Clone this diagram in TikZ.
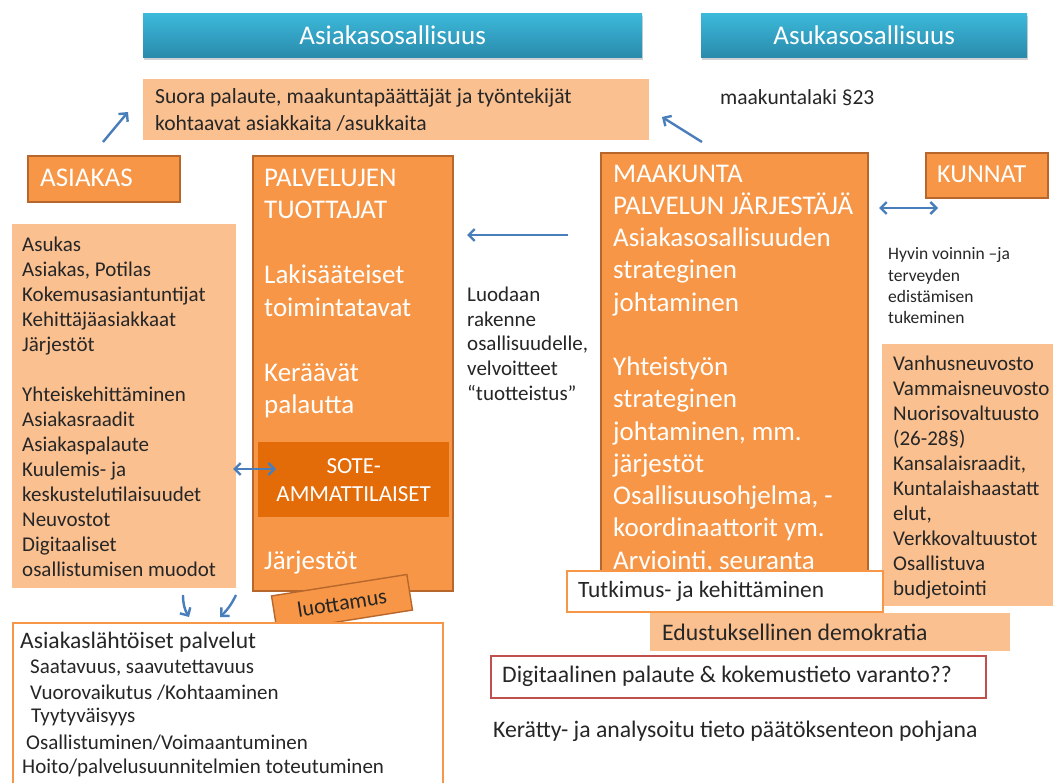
\documentclass[tikz,border=0pt]{standalone}
\usepackage{fontspec}
\setmainfont{Carlito}
\usetikzlibrary{shadows,arrows.meta}
\definecolor{bannertop}{HTML}{3CB9DB}
\definecolor{bannerbot}{HTML}{2A8BAC}
\definecolor{orng}{HTML}{F79646}
\definecolor{orngdark}{HTML}{B8672C}
\definecolor{peach}{HTML}{FAC090}
\definecolor{sotec}{HTML}{E36C09}
\definecolor{arrowblue}{HTML}{4A7EBB}
\definecolor{redb}{HTML}{C0504D}
\definecolor{txt}{HTML}{262626}
\newcommand{\myfs}[2]{\fontsize{#1}{#2}\selectfont}
\begin{document}
\begin{tikzpicture}[x=1pt,y=-1pt,
  boxbase/.style={rectangle, inner sep=0pt, anchor=north west},
  banner/.style={boxbase, top color=bannertop, bottom color=bannerbot, text=white, font=\myfs{27}{32},
     drop shadow={opacity=0.35, shadow xshift=1pt, shadow yshift=-3pt}},
  orangebox/.style={boxbase, fill=orng, draw=orngdark, line width=1.6pt},
  peachbox/.style={boxbase, fill=peach},
  whitebox/.style={boxbase, fill=white, draw=orng, line width=2pt},
  redbox/.style={boxbase, fill=white, draw=redb, line width=2.2pt},
  sotebox/.style={boxbase, fill=sotec, text=white, align=center, font=\myfs{23}{28}},
  wtxt/.style={inner sep=0pt, text=white, align=left},
  dtxt/.style={inner sep=0pt, text=txt, align=left},
  barrow/.style={draw=arrowblue, line width=2.4pt, -{Straight Barb[length=6pt,width=12pt]}},
  dbarrow/.style={draw=arrowblue, line width=2.4pt, {Straight Barb[length=6pt,width=12pt]}-{Straight Barb[length=6pt,width=12pt]}}
]
\useasboundingbox (0,0) rectangle (1053,783);
\fill[white] (0,0) rectangle (1053,783);

% banners
\node[banner, minimum width=499pt, minimum height=44pt] (ban1) at (143,13) {Asiakasosallisuus};
\node[banner, minimum width=326pt, minimum height=44pt] (ban2) at (701,13) {Asukasosallisuus};

% top peach box
\node[peachbox, minimum width=506pt, minimum height=61pt] (suora) at (143,79) {};
\node[dtxt, anchor=north west, font=\myfs{21.6}{27}] (suoratxt) at (155,88.5)
  {Suora palaute, maakuntapäättäjät ja työntekijät\\kohtaavat asiakkaita /asukkaita};
\node[dtxt, anchor=west, font=\myfs{21.5}{26}] (laki) at (720,98) {maakuntalaki §23};

% ASIAKAS
\node[orangebox, minimum width=152pt, minimum height=46pt] (asiakas) at (27,155) {};
\node[wtxt, anchor=west, font=\myfs{27}{32}] (asiakastxt) at (40,178) {ASIAKAS};

% left list
\node[peachbox, minimum width=224pt, minimum height=364pt] (leftlist) at (12,224) {};
\node[dtxt, anchor=north west, font=\myfs{21}{25}] (lefttxt) at (22,236.5)
  {Asukas\\Asiakas, Potilas\\Kokemusasiantuntijat\\Kehittäjäasiakkaat\\Järjestöt\\[25pt]Yhteiskehittäminen\\Asiakasraadit\\Asiakaspalaute\\Kuulemis- ja\\keskustelutilaisuudet\\Neuvostot\\Digitaaliset\\osallistumisen muodot};

% palvelujen tuottajat
\node[orangebox, minimum width=200pt, minimum height=435pt] (palv) at (252,155) {};
\node[wtxt, anchor=north west, font=\myfs{27}{32.5}] (palvtxt) at (264,168.6)
  {PALVELUJEN\\TUOTTAJAT\\[32.5pt]Lakisääteiset\\toimintatavat\\[32.5pt]Keräävät\\palautta};
\node[sotebox, minimum width=191pt, minimum height=75pt] (sote) at (258,442) {SOTE-\\AMMATTILAISET};
\node[wtxt, anchor=west, font=\myfs{27}{32}] (jarj) at (264,563) {Järjestöt};

% luottamus
\node[rectangle, fill=orng, draw=orngdark, line width=1.4pt, rotate=9, minimum width=137pt, minimum height=36pt,
      inner sep=0pt] (luott) at (342,603) {};
\node[rotate=9, inner sep=0pt, text=txt, font=\myfs{22}{26}] (luotttxt) at (luott.center) {luottamus};

% middle text
\node[dtxt, anchor=north west, font=\myfs{21}{24.8}] (luodaan) at (467,286.5)
  {Luodaan\\rakenne\\osallisuudelle,\\velvoitteet\\“tuotteistus”};

% maakunta
\node[orangebox, minimum width=267pt, minimum height=438pt] (maak) at (600,152) {};
\node[wtxt, anchor=north west, font=\myfs{27}{32.25}] (maaktxt) at (613,164.6)
  {MAAKUNTA\\PALVELUN JÄRJESTÄJÄ\\Asiakasosallisuuden\\strateginen\\johtaminen\\[32.25pt]Yhteistyön\\strateginen\\johtaminen, mm.\\järjestöt\\Osallisuusohjelma, -\\koordinaattorit ym.\\Arviointi, seuranta};

% kunnat
\node[orangebox, minimum width=122pt, minimum height=45pt] (kunnat) at (925,152) {};
\node[wtxt, anchor=west, font=\myfs{26}{30}] (kunnattxt) at (937,174) {KUNNAT};

\node[dtxt, anchor=north west, font=\myfs{17.5}{21.3}] (hyvin) at (888,247.6)
  {Hyvin voinnin –ja\\terveyden\\edistämisen\\tukeminen};

% right list
\node[peachbox, minimum width=171pt, minimum height=262pt] (rightlist) at (882,344) {};
\node[dtxt, anchor=north west, font=\myfs{21}{25}] (righttxt) at (893,355.5)
  {Vanhusneuvosto\\Vammaisneuvosto\\Nuorisovaltuusto\\(26-28§)\\Kansalaisraadit,\\Kuntalaishaastatt\\elut,\\Verkkovaltuustot\\Osallistuva\\budjetointi};

% bottom right boxes
\node[whitebox, minimum width=316pt, minimum height=41pt] (tutk) at (566,570) {};
\node[dtxt, anchor=west, font=\myfs{23.4}{28}] (tutktxt) at (578,591) {Tutkimus- ja kehittäminen};
\node[peachbox, minimum width=360pt, minimum height=38pt] (edus) at (650,613) {};
\node[dtxt, anchor=west, font=\myfs{23.7}{28}] (edustxt) at (662,632) {Edustuksellinen demokratia};
\node[redbox, minimum width=495pt, minimum height=42pt] (digi) at (490,655) {};
\node[dtxt, anchor=west, font=\myfs{23.7}{28}] (digitxt) at (502,676) {Digitaalinen palaute \& kokemustieto varanto??};
\node[dtxt, anchor=west, font=\myfs{23.7}{28}] (keratty) at (493,731) {Kerätty- ja analysoitu tieto päätöksenteon pohjana};

% bottom left box
\node[whitebox, minimum width=430pt, minimum height=170pt] (bottombox) at (12,622) {};
\node[dtxt, anchor=west, font=\myfs{23.6}{28}] (bl1) at (20,642) {Asiakaslähtöiset palvelut};
\node[dtxt, anchor=west, font=\myfs{21}{25}] (bl2) at (30,668) {Saatavuus, saavutettavuus};
\node[dtxt, anchor=west, font=\myfs{21}{25}] (bl3) at (30,693) {Vuorovaikutus /Kohtaaminen};
\node[dtxt, anchor=west, font=\myfs{21}{25}] (bl4) at (31,717) {Tyytyväisyys};
\node[dtxt, anchor=west, font=\myfs{21}{25}] (bl5) at (26,743) {Osallistuminen/Voimaantuminen};
\node[dtxt, anchor=west, font=\myfs{21}{25}] (bl6) at (22,768) {Hoito/palvelusuunnitelmien toteutuminen};

% arrows
\coordinate (a1s) at (103,142); \coordinate (a1e) at (128,112);
\coordinate (a2s) at (702,142); \coordinate (a2e) at (662,117);
\coordinate (a3s) at (568,235); \coordinate (a3e) at (467,235);
\coordinate (a4s) at (233,469); \coordinate (a4e) at (276,469);
\coordinate (a5s) at (879,208); \coordinate (a5e) at (938,208);
\coordinate (a6s) at (183,595); \coordinate (a6e) at (189,617);
\coordinate (a7s) at (236,595); \coordinate (a7e) at (220,617);
\draw[barrow] (a1s) -- (a1e);
\draw[barrow] (a2s) -- (a2e);
\draw[barrow] (a3s) -- (a3e);
\draw[dbarrow] (a4s) -- (a4e);
\draw[dbarrow] (a5s) -- (a5e);
\draw[barrow] (a6s) to[bend right=15] (a6e);
\draw[barrow] (a7s) to[bend left=10] (a7e);
\end{tikzpicture}
\end{document}
